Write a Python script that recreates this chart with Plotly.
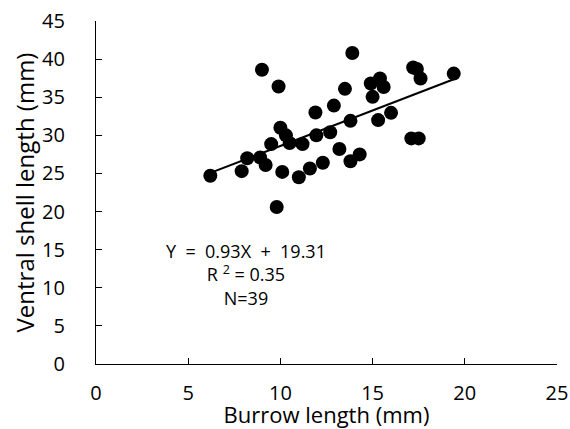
import plotly.graph_objects as go

burrow_length = [6.2, 7.9, 8.2, 8.9, 9.0, 9.2, 9.5, 9.8, 9.9, 10.0, 10.1, 10.3, 10.5,
                 11.0, 11.2, 11.6, 11.9, 11.95, 12.3, 12.7, 12.9, 13.2, 13.5, 13.8,
                 13.8, 13.9, 14.3, 14.9, 15.0, 15.3, 15.4, 15.6, 16.0, 17.1, 17.2,
                 17.4, 17.5, 17.6, 19.4]
shell_length = [24.7, 25.3, 27.0, 27.1, 38.6, 26.1, 28.85, 20.6, 36.4, 31.0, 25.2, 30.0, 29.0,
                24.5, 28.85, 25.65, 33.0, 30.0, 26.4, 30.4, 33.9, 28.2, 36.1, 31.9,
                26.6, 40.8, 27.5, 36.8, 35.05, 32.0, 37.45, 36.35, 32.95, 29.6, 38.9,
                38.7, 29.6, 37.45, 38.1]
slope = 0.93
intercept = 19.31
x_ticks = [0, 5, 10, 15, 20, 25]
y_ticks = [0, 5, 10, 15, 20, 25, 30, 35, 40, 45]

FONT = "Open Sans"

x_fit = [min(burrow_length), max(burrow_length)]
y_fit = [slope * v + intercept for v in x_fit]

fig = go.Figure()
fig.add_trace(go.Scatter(x=burrow_length, y=shell_length, mode="markers",
                         marker=dict(color="black", size=14, line=dict(width=0)),
                         showlegend=False, hoverinfo="x+y"))
fig.add_trace(go.Scatter(x=x_fit, y=y_fit, mode="lines",
                         line=dict(color="black", width=2), showlegend=False))

fig.add_annotation(x=8.15, y=11.7, xref="x", yref="y", showarrow=False,
                   text="Y&nbsp; =&nbsp; 0.93X&nbsp; +&nbsp; 19.31<br>R <sup>2</sup> = 0.35<br>N=39",
                   align="center", font=dict(family=FONT, size=18, color="black"))

axis_common = dict(showgrid=False, zeroline=False, showline=True, linecolor="black",
                   linewidth=1.3, ticks="inside", ticklen=6, tickcolor="black",
                   automargin=False, ticklabeloverflow="allow",
                   tickfont=dict(family=FONT, size=20, color="black"))

fig.update_xaxes(range=[0, 25], tickvals=x_ticks,
                 title=dict(text="Burrow length (mm)", font=dict(family=FONT, size=22, color="black"),
                            standoff=8),
                 ticklabelstandoff=11, **axis_common)
fig.update_yaxes(range=[0, 45], tickvals=y_ticks,
                 title=dict(text="Ventral shell length (mm)", font=dict(family=FONT, size=24, color="black"),
                            standoff=0),
                 ticklabelstandoff=26, **axis_common)

fig.update_layout(width=570, height=429, plot_bgcolor="white", paper_bgcolor="white",
                  template="none",
                  margin=dict(l=96, r=13, t=21, b=65), font=dict(family=FONT))

fig.write_html("out.html", config={"displayModeBar": False},
               post_script="document.body.style.margin='0px';")
